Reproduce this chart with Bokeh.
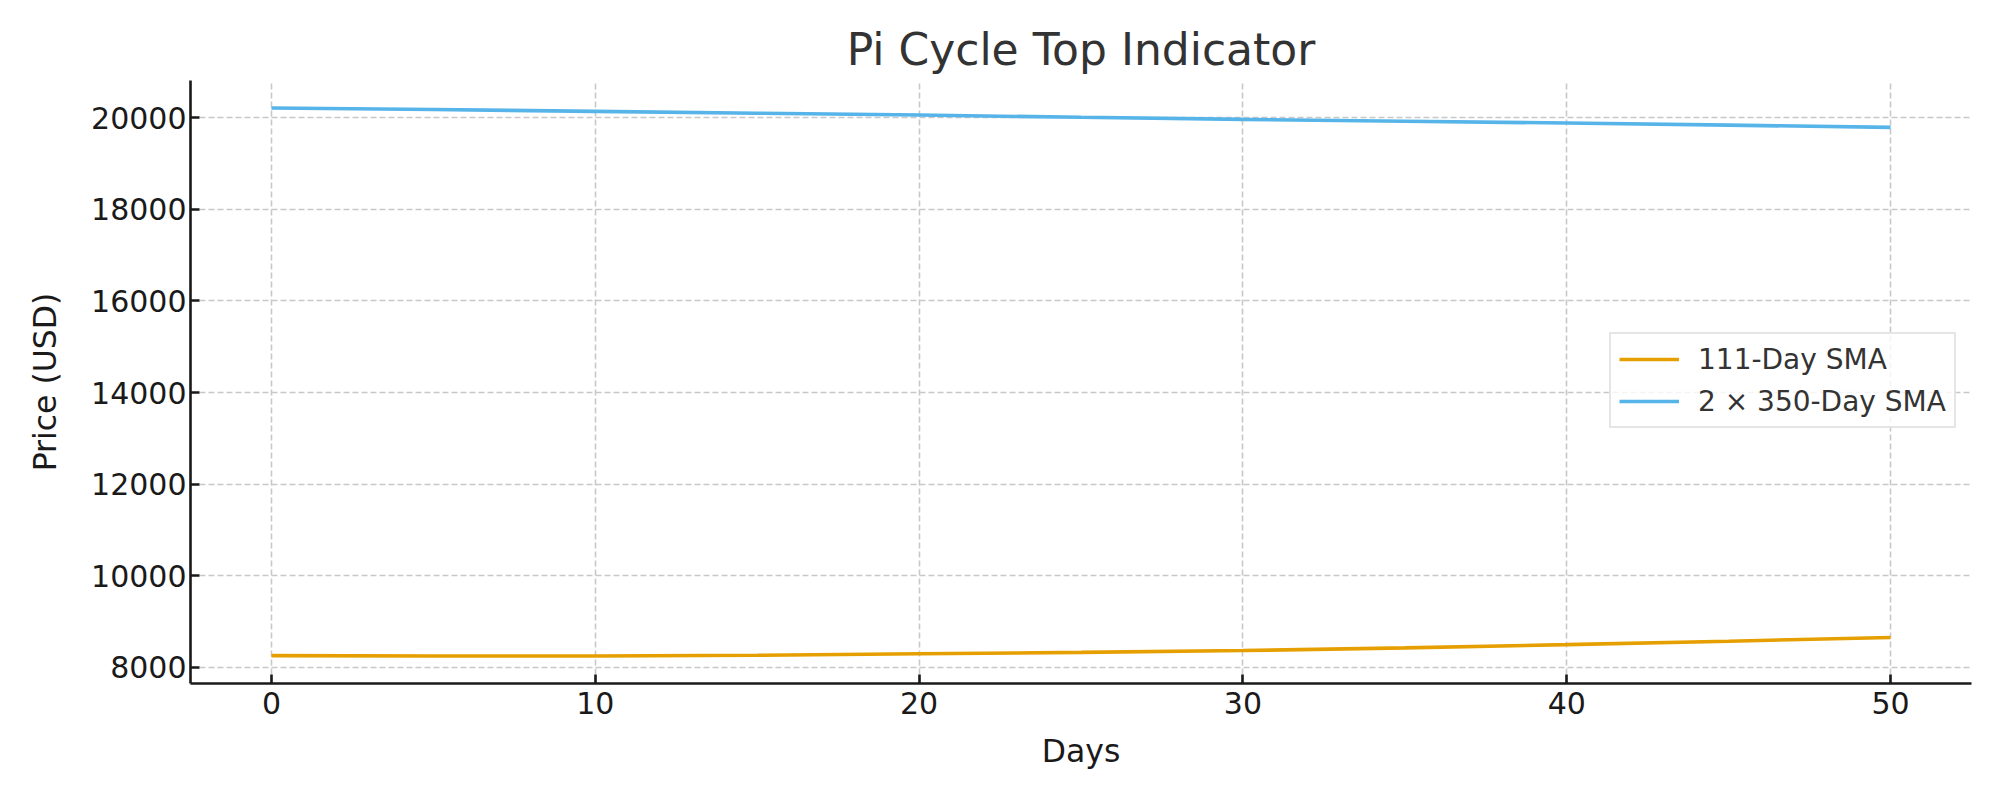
from bokeh.plotting import figure
from bokeh.models import Range1d, FixedTicker, Legend, LegendItem
from bokeh.embed import file_html
from bokeh.resources import INLINE

# ---- data ----
days = [0, 5, 10, 15, 20, 25, 30, 35, 40, 45, 50]
sma_111 = [8255, 8245, 8248, 8262, 8295, 8325, 8365, 8425, 8495, 8570, 8650]
sma_350x2 = [20215, 20180, 20140, 20100, 20060, 20010, 19965, 19925, 19885, 19840, 19790]
x_ticks = [0, 10, 20, 30, 40, 50]
y_ticks = [8000, 10000, 12000, 14000, 16000, 18000, 20000]
series_names = ["111-Day SMA", "2 \u00d7 350-Day SMA"]

FONT = "DejaVu Sans"
ORANGE = "#E69F00"
BLUE = "#56B4E9"

p = figure(width=1984, height=784, output_backend="svg", toolbar_location=None,
           x_range=Range1d(-2.5, 52.5), y_range=Range1d(7646, 20814),
           min_border_left=190, min_border_right=13, min_border_top=80,
           min_border_bottom=101)
p.outline_line_color = None
p.background_fill_color = "white"

# title
p.title.text = "Pi Cycle Top Indicator"
p.title.align = "center"
p.title.text_font = FONT
p.title.text_font_size = "44px"
p.title.text_font_style = "normal"
p.title.text_color = "#333333"
p.title.standoff = 12

# axes
for ax in (p.xaxis[0], p.yaxis[0]):
    ax.axis_line_width = 2.6
    ax.axis_line_color = "#1a1a1a"
    ax.major_tick_line_width = 2.6
    ax.major_tick_line_color = "#1a1a1a"
    ax.major_tick_in = 9
    ax.major_tick_out = 0
    ax.minor_tick_line_color = None
    ax.major_label_text_font = FONT
    ax.major_label_text_font_size = "30px"
    ax.major_label_text_color = "#1a1a1a"
    ax.axis_label_text_font = FONT
    ax.axis_label_text_font_size = "31.5px"
    ax.axis_label_text_font_style = "normal"
    ax.axis_label_text_color = "#1a1a1a"

p.xaxis.ticker = FixedTicker(ticks=x_ticks)
p.yaxis.ticker = FixedTicker(ticks=y_ticks)
p.xaxis.axis_label = "Days"
p.yaxis.axis_label = "Price (USD)"
p.xaxis.major_label_standoff = 8
p.yaxis.major_label_standoff = 4
p.xaxis.axis_label_standoff = 16
p.yaxis.axis_label_standoff = 25

# grid
for g in (p.xgrid[0], p.ygrid[0]):
    g.grid_line_color = "#c8c8c8"
    g.grid_line_width = 1.6
    g.grid_line_dash = "6 3"

r1 = p.line(days, sma_111, line_color=ORANGE, line_width=3.6)
r2 = p.line(days, sma_350x2, line_color=BLUE, line_width=3.6)

legend = Legend(items=[LegendItem(label=series_names[0], renderers=[r1]),
                       LegendItem(label=series_names[1], renderers=[r2])],
                location=(1419, 255))
legend.label_text_font = FONT
legend.label_text_font_size = "28px"
legend.label_text_color = "#333333"
legend.glyph_width = 60
legend.glyph_height = 34
legend.label_height = 34
legend.label_standoff = 19
legend.spacing = 8
legend.padding = 8
legend.margin = 0
legend.border_line_color = "#cccccc"
legend.border_line_width = 2
legend.background_fill_color = "white"
legend.background_fill_alpha = 0.8
p.add_layout(legend, "center")

open("out.html", "w").write(file_html(p, INLINE))
